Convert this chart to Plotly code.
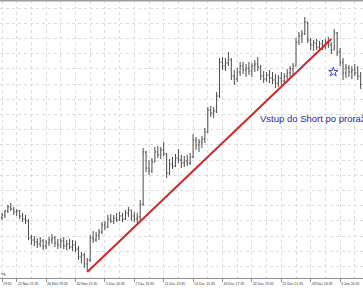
import plotly.graph_objects as go

# ---- data (price points) ----
bars = list(range(123))
highs = [65,68,73,75,71,69,68,65,63,59, 43,42,40,41,39,38,41,44,42,39,
         40,41,38,39,38,37,32,26,25,20, 43,47,46,49,56,57,63,64,63,65,
         66,65,68,71,68,66,65,78,130,127, 118,120,131,132,131,136,125,119,121,124,
         129,123,122,123,125,144,141,139,142,150, 171,172,171,186,220,221,220,226,220,208,
         210,216,216,214,216,215,218,221,213,207, 206,208,206,204,203,206,205,209,212,215,
         240,246,248,261,256,240,238,239,237,238, 239,241,236,249,246,230,220,214,213,212,
         214,212,206]
lows = [58,60,65,67,63,62,59,56,54,38, 33,32,30,31,28,29,32,34,31,29,
        30,29,28,29,27,26,18,15,10,6, 16,35,36,38,44,48,50,55,54,56,
        57,56,58,61,57,56,55,58,72,106, 103,105,116,120,119,122,100,103,109,111,
        115,110,111,112,113,120,128,126,130,135, 145,161,160,165,180,208,207,212,198,193,
        196,202,204,201,203,201,206,207,198,195, 196,195,194,190,191,193,194,198,201,203,
        212,233,235,243,235,228,227,228,227,228, 229,230,224,228,222,212,198,200,201,199,
        202,198,189]
opens = [60,63,67,71,69,66,67,62,59,57, 40,38,36,34,37,32,35,38,40,35,
         33,37,32,34,31,33,29,21,23,14, 18,40,38,43,46,53,51,59,57,60,
         58,62,59,65,68,62,59,61,74,126, 110,107,116,126,123,128,124,105,114,112,
         120,118,115,117,115,121,138,133,136,139, 146,168,165,167,182,216,212,215,218,202,
         199,206,212,208,210,207,212,214,211,202, 199,203,200,198,195,200,197,202,205,209,
         212,236,242,244,256,238,233,235,231,234, 232,236,233,228,245,226,216,205,210,206,
         208,205,202]
closes = [63,67,71,69,66,67,62,59,57,40, 38,36,34,37,32,35,38,40,35,33,
          37,32,34,31,33,29,21,23,14,18, 40,38,43,46,53,51,59,57,60,58,
          62,59,65,68,62,59,61,74,126,110, 107,116,126,123,128,124,105,114,112,120,
          118,115,117,115,121,138,133,136,139,146, 168,165,167,182,216,212,215,218,202,199,
          206,212,208,210,207,212,214,211,202,199, 203,200,198,195,200,197,202,205,209,212,
          236,242,244,256,238,233,235,231,234,232, 236,233,228,245,226,216,205,210,206,208,
          205,202,194]

tick_pos = [0, 5, 15, 25, 35, 45, 55, 65, 75, 85, 95, 105, 115]
tick_labels = ["19:35", "22 Nov 21:35", "26 Nov 19:35", "30 Nov 21:35", "5 Dec 16:35",
               "7 Dec 19:35", "11 Dec 20:35", "14 Dec 15:35", "16 Dec 17:35",
               "20 Dec 19:35", "22 Dec 21:35", "28 Dec 16:35", "3 Jan 16:35"]

trend_x = [29, 112]
trend_y = [6, 239]
signal_x = [112.7]
signal_y = [206]
note_text = "Vstup do Short po proražení"
note_x = 87.2
note_y = 160

fig = go.Figure()
fig.add_trace(go.Ohlc(
    x=bars, open=opens, high=highs, low=lows, close=closes,
    increasing=dict(line=dict(color="#4a4a4a", width=1)),
    decreasing=dict(line=dict(color="#4a4a4a", width=1)),
    tickwidth=0.35, showlegend=False, hoverinfo="skip"))
fig.add_trace(go.Scatter(
    x=trend_x, y=trend_y, mode="lines",
    line=dict(color="#d02828", width=2), showlegend=False, hoverinfo="skip"))
fig.add_trace(go.Scatter(
    x=signal_x, y=signal_y, mode="markers",
    marker=dict(symbol="star-open", size=7, color="#4848c8", line=dict(width=1, color="#4848c8")),
    showlegend=False, hoverinfo="skip"))

fig.add_annotation(x=note_x, y=note_y, xref="x", yref="y", text=note_text,
                   showarrow=False, xanchor="left", yanchor="middle",
                   font=dict(family="Liberation Sans, Arial", size=9.5, color="#2626b4"))
fig.add_annotation(x=0, y=0, xref="paper", yref="paper", text="ng.",
                   showarrow=False, xanchor="left", yanchor="bottom", xshift=-1, yshift=0,
                   font=dict(family="Liberation Sans, Arial", size=4, color="#444"))

# top border line
fig.add_shape(type="line", xref="paper", yref="paper", x0=0, x1=1, y0=1, y1=1,
              line=dict(color="#a0a0a0", width=3))

fig.update_layout(
    width=363, height=290,
    margin=dict(l=0, r=0, t=0, b=12),
    paper_bgcolor="white", plot_bgcolor="white",
    xaxis=dict(
        range=[-0.68, 122.79], rangeslider=dict(visible=False),
        tickmode="array", tickvals=tick_pos, ticktext=tick_labels,
        ticklabelposition="outside right", tickangle=0, ticklabelstandoff=2,
        ticks="outside", ticklen=3, tickcolor="#909090", tickwidth=1,
        tickfont=dict(family="Liberation Sans, Arial", size=3.5, color="#333"),
        showgrid=True, gridcolor="#dcdcdc", griddash="dot", gridwidth=1,
        minor=dict(tick0=0, dtick=5, showgrid=True, gridcolor="#dcdcdc", griddash="dot", ticks=""),
        showline=True, linecolor="#8c8c8c", linewidth=1,
        zeroline=False, fixedrange=True,
    ),
    yaxis=dict(
        range=[0, 278], tick0=11.6, dtick=15.2,
        showticklabels=False, ticks="",
        showgrid=True, gridcolor="#dcdcdc", griddash="dot", gridwidth=1,
        zeroline=False, showline=False, fixedrange=True,
    ),
)

fig.write_html("out.html")
